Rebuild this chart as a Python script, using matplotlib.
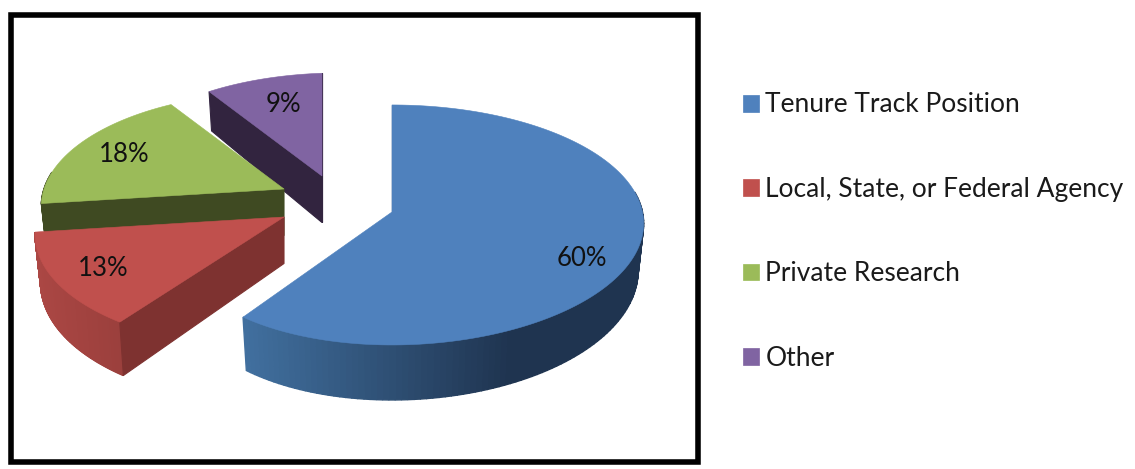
import numpy as np
import matplotlib
matplotlib.use("Agg")
import matplotlib.pyplot as plt
from matplotlib.patches import Polygon, Patch, Rectangle
from matplotlib.colors import to_rgb

categories = ["Tenure Track Position", "Local, State, or Federal Agency", "Private Research", "Other"]
values = [60, 13, 18, 9]
value_labels = ["60%", "13%", "18%", "9%"]

top_colors = ["#4F81BD", "#C0504D", "#9BBB59", "#8064A2"]
wall_light = ["#41709F", "#AB4744", "#3F4A22", "#32243F"]
wall_dark = ["#1F3450", "#9A3F3C", "#3F4A22", "#32243F"]
cut_colors = ["#1F3450", "#7E3230", "#3F4A22", "#32243F"]
apexes = [(392, 212), (284, 217), (284, 189), (322, 176)]
label_pos = [(582, 258), (103, 268), (124, 155), (283, 104)]
grad_span = [(243, 510), (34, 125), (34, 125), (208, 322)]
rim_x = [(1.008, 0.925), (1.02, 0.99), (0.965, 0.92), (0.92, 0.96)]
rim_y = [(1.0, 1.0), (1.0, 1.0), (0.965, 0.92), (0.92, 0.96)]
rim_pow = [3, 1, 1, 1]

A, B, K = 250.0, 118.6, 0.108
BOTTOM_INSET = 0.978

def project(theta):
    X, Y = np.sin(theta), -np.cos(theta)
    w = 1 - K * Y
    return A * X / w, B * Y / w, Y

def depth(Y):
    return 46.5 + 8.5 * Y

fig = plt.figure(figsize=(11.35, 4.69), dpi=100)
ax = fig.add_axes([0, 0, 1, 1])
ax.set_xlim(0, 1135)
ax.set_ylim(469, 0)
ax.axis("off")
plt.rcParams["font.family"] = "Lato"

ax.add_patch(Rectangle((11, 15), 687, 447, fill=False, ec="black", lw=4.0, zorder=0.5))

angles = np.concatenate([[0], np.cumsum(values)]) / np.sum(values) * 2 * np.pi

def draw_slice(i, z):
    (cx, cy) = apexes[i]
    th = np.linspace(angles[i], angles[i + 1], 160)
    x, y, Y = project(th)
    t = np.linspace(0, 1, len(th)) ** rim_pow[i]
    x = cx + x * (rim_x[i][0] + (rim_x[i][1] - rim_x[i][0]) * t)
    y = cy + y * (rim_y[i][0] + (rim_y[i][1] - rim_y[i][0]) * t)
    d = depth(Y)
    xb = cx + (x - cx) * BOTTOM_INSET
    x0, x1 = grad_span[i]
    c0, c1 = np.array(to_rgb(wall_light[i])), np.array(to_rgb(wall_dark[i]))
    # outer wall
    for j in range(len(th) - 1):
        if Y[j] < -0.15 and Y[j + 1] < -0.15:
            continue
        f = np.clip((0.5 * (x[j] + x[j + 1]) - x0) / (x1 - x0), 0, 1)
        col = c0 + (c1 - c0) * f
        ax.add_patch(Polygon([(x[j], y[j]), (x[j + 1], y[j + 1]),
                              (xb[j + 1], y[j + 1] + d[j + 1]), (xb[j], y[j] + d[j])],
                             closed=True, fc=col, ec=col, lw=1.0, zorder=z))
    # visible cut faces
    apex_d = depth(0)
    if -np.sin(angles[i]) >= -1e-9:
        ax.add_patch(Polygon([(cx, cy), (x[0], y[0]), (xb[0], y[0] + d[0]), (cx, cy + apex_d)],
                             closed=True, fc=cut_colors[i], ec=cut_colors[i], lw=0.8, zorder=z + 0.1))
    if np.sin(angles[i + 1]) >= -1e-9:
        ax.add_patch(Polygon([(cx, cy), (x[-1], y[-1]), (xb[-1], y[-1] + d[-1]), (cx, cy + apex_d)],
                             closed=True, fc=cut_colors[i], ec=cut_colors[i], lw=0.8, zorder=z + 0.1))
    # top surface
    ax.add_patch(Polygon(np.column_stack([np.r_[cx, x], np.r_[cy, y]]), closed=True,
                         fc=top_colors[i], ec=top_colors[i], lw=0.4, zorder=z + 0.2))
    ax.text(label_pos[i][0], label_pos[i][1], value_labels[i], ha="center", va="center",
            fontsize=18.5, color="#111111", zorder=10)

for z, i in zip([1, 2, 3, 4], [3, 2, 1, 0]):
    draw_slice(i, z)

handles = [Patch(fc=c, ec=c, lw=0.5) for c in top_colors]
ax.legend(handles, categories, loc="upper left", bbox_to_anchor=(743 / 1135, 1 - 92.5 / 469),
          bbox_transform=ax.transAxes, frameon=False, fontsize=19, labelcolor="#1a1a1a",
          handlelength=0.6, handleheight=0.6, handletextpad=0.25, labelspacing=2.25,
          borderpad=0, borderaxespad=0)

fig.savefig("out.png", dpi=100)
